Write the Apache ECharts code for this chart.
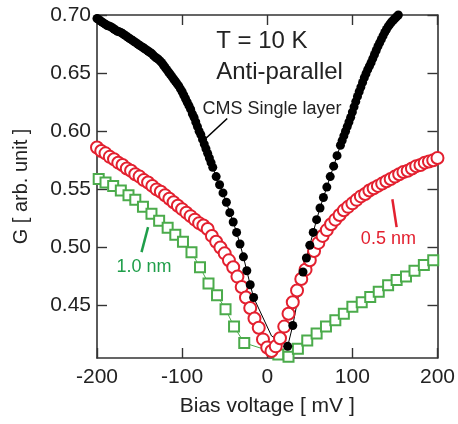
<!DOCTYPE html>
<html>
<head>
<meta charset="utf-8">
<script src="https://cdn.jsdelivr.net/npm/echarts@6/dist/echarts.min.js"></script>
<style>
  html, body { margin: 0; padding: 0; background: #fff; }
  #chart { width: 458px; height: 424px; }
</style>
</head>
<body>
<div id="chart"></div>
<script>
// CMS single layer (filled black dots)
var blackX = [-200, -198, -196, -194, -192, -190, -188, -186, -184, -182, -180, -178, -176, -174, -172,
    -170, -168, -166, -164, -162, -160, -158, -156, -154, -152, -150, -148, -146, -144, -142, -140, -138,
    -136, -134, -132, -130, -128, -126, -124, -122, -120, -118, -116, -114, -112, -110, -108, -106, -104,
    -102, -100, -98, -96, -94, -92, -90, -88, -86, -84, -82, -80, -78, -76, -74, -72, -70, -68, -66, -64,
    -60, -56, -52, -48, -44, -40, -36, -32, -28, -24, -20, -16,
    5, 24, 30,
    42, 46, 50, 54, 58, 62, 66, 70, 74, 78, 82,
    86, 88, 90, 92, 94, 96, 98, 100, 102, 104, 106, 108, 110, 112, 114, 116, 118, 120, 122, 124, 126,
    128, 130, 132, 134, 136, 138, 140, 142, 144, 146, 148, 150, 152, 154];
var blackY = [0.697, 0.696, 0.695, 0.694, 0.693, 0.692, 0.691, 0.6905, 0.690, 0.689, 0.688, 0.687, 0.686,
    0.6855, 0.685, 0.684, 0.683, 0.682, 0.681, 0.680, 0.679, 0.678, 0.677, 0.676, 0.675, 0.674, 0.673,
    0.672, 0.671, 0.670, 0.669, 0.668, 0.667, 0.6655, 0.664, 0.663, 0.662, 0.6605, 0.659, 0.657, 0.655,
    0.653, 0.651, 0.649, 0.647, 0.645, 0.643, 0.641, 0.639, 0.6365, 0.634, 0.631, 0.628, 0.625, 0.622,
    0.619, 0.615, 0.612, 0.608, 0.604, 0.600, 0.597, 0.593, 0.589, 0.585, 0.581, 0.577, 0.573, 0.569,
    0.561, 0.554, 0.547, 0.539, 0.530, 0.522, 0.513, 0.503, 0.492, 0.480, 0.468, 0.457,
    0.424, 0.415, 0.433,
    0.479, 0.491, 0.502, 0.513, 0.524, 0.534, 0.543, 0.552, 0.561, 0.570, 0.579,
    0.588, 0.592, 0.596, 0.600, 0.604, 0.608, 0.612, 0.6165, 0.621, 0.6255, 0.630, 0.634, 0.638, 0.642,
    0.646, 0.6495, 0.653, 0.656, 0.659, 0.6625, 0.666, 0.6695, 0.673, 0.676, 0.679, 0.682, 0.685, 0.6875,
    0.690, 0.692, 0.694, 0.6955, 0.697, 0.6985, 0.700];
var blackHidden = [5];

// 0.5 nm (open red circles)
var redX = [-200, -195, -190, -185, -180, -175, -170, -165, -160, -155, -150, -145, -140, -135, -130,
    -125, -120, -115, -110, -105, -100, -95, -90, -85, -80, -75, -70, -65, -60, -55, -50, -45, -40, -35,
    -30, -25, -20, -15, -10, -5, 0, 5, 10, 15, 20, 25, 30, 35, 40, 45, 50, 55, 60, 65, 70, 75, 80, 85,
    90, 95, 100, 105, 110, 115, 120, 125, 130, 135, 140, 145, 150, 155, 160, 165, 170, 175, 180, 185,
    190, 195, 200];
var redY = [0.586, 0.583, 0.581, 0.578, 0.576, 0.573, 0.571, 0.568, 0.566, 0.563, 0.561, 0.558, 0.556,
    0.553, 0.550, 0.548, 0.545, 0.542, 0.539, 0.536, 0.533, 0.530, 0.527, 0.524, 0.521, 0.519, 0.516,
    0.510, 0.505, 0.500, 0.495, 0.489, 0.483, 0.475, 0.466, 0.457, 0.448, 0.439, 0.431, 0.421, 0.414,
    0.411, 0.415, 0.422, 0.432, 0.443, 0.453, 0.463, 0.473, 0.481, 0.489, 0.497, 0.504, 0.510, 0.515,
    0.520, 0.524, 0.528, 0.532, 0.535, 0.538, 0.541, 0.544, 0.546, 0.549, 0.551, 0.553, 0.555, 0.557,
    0.559, 0.561, 0.563, 0.565, 0.566, 0.568, 0.570, 0.571, 0.573, 0.574, 0.575, 0.577];

// 1.0 nm (open green squares)
var greenX = [-198, -190, -181, -172, -163, -155, -146, -136, -127, -117, -108, -99, -89, -79, -69, -59,
    -49, -39, -27, 3, 13, 25, 36, 47, 58, 69, 80, 90, 100, 111, 121, 131, 142, 152, 163, 173, 184, 195];
var greenY = [0.559, 0.556, 0.553, 0.549, 0.545, 0.541, 0.535, 0.529, 0.523, 0.517, 0.511, 0.505, 0.496,
    0.483, 0.469, 0.459, 0.447, 0.432, 0.418, 0.411, 0.408, 0.406, 0.413, 0.420, 0.426, 0.432, 0.4375,
    0.443, 0.449, 0.453, 0.4575, 0.462, 0.4675, 0.472, 0.475, 0.480, 0.485, 0.489];
var greenHidden = [3];

var yTicks = [0.45, 0.50, 0.55, 0.60, 0.65, 0.70];

var FONT = 'Liberation Sans';
var RED = '#e3202f';
var GREEN = '#4bab4b';
var GREEN_TXT = '#1f9e4a';
var AXIS = '#333';

function pairs(xs, ys, hidden) {
    return xs.map(function (x, i) {
        if (hidden && hidden.indexOf(x) >= 0) {
            return { value: [x, ys[i]], symbol: 'none' };
        }
        return [x, ys[i]];
    });
}

var chart = echarts.init(document.getElementById('chart'));

var axisLine = { show: true, onZero: false, lineStyle: { color: AXIS, width: 1.6 } };
var axisTick = { show: true, inside: true, length: 10, lineStyle: { color: AXIS, width: 1.4 } };

var option = {
    animation: false,
    grid: { left: 97, right: 17, top: 15, bottom: 66 },
    xAxis: [
        {
            type: 'value', min: -200, max: 200, interval: 100, position: 'bottom',
            axisLine: axisLine, axisTick: axisTick, splitLine: { show: false },
            axisLabel: { fontSize: 21, fontFamily: FONT, color: '#222', margin: 9 },
            name: 'Bias voltage [ mV ]', nameLocation: 'middle', nameGap: 38,
            nameTextStyle: { fontSize: 21, fontFamily: FONT, color: '#222' }
        },
        {
            type: 'value', min: -200, max: 200, interval: 100, position: 'top',
            axisLine: axisLine, axisTick: axisTick, splitLine: { show: false },
            axisLabel: { show: false }
        }
    ],
    yAxis: [
        {
            type: 'value', min: 0.405, max: 0.70, position: 'left',
            axisLine: axisLine,
            axisTick: Object.assign({ customValues: yTicks }, axisTick),
            splitLine: { show: false },
            axisLabel: {
                customValues: yTicks, fontSize: 21, fontFamily: FONT, color: '#222', margin: 6,
                formatter: function (v) { return v.toFixed(2); }
            },
            name: 'G [ arb. unit ]', nameLocation: 'middle', nameGap: 66,
            nameTextStyle: { fontSize: 20, fontFamily: FONT, color: '#222' }
        },
        {
            type: 'value', min: 0.405, max: 0.70, position: 'right',
            axisLine: axisLine,
            axisTick: Object.assign({ customValues: yTicks }, axisTick),
            splitLine: { show: false },
            axisLabel: { show: false }
        }
    ],
    series: [
        {
            name: '1.0 nm', type: 'line', data: pairs(greenX, greenY, greenHidden),
            symbol: 'emptyRect', symbolSize: 10, clip: true,
            lineStyle: { color: GREEN, width: 1 },
            itemStyle: { color: GREEN, borderWidth: 1.3 }
        },
        {
            name: '0.5 nm', type: 'line', data: pairs(redX, redY),
            symbol: 'emptyCircle', symbolSize: 12, clip: true,
            lineStyle: { width: 0 },
            itemStyle: { color: RED, borderWidth: 1.2 }
        },
        {
            name: 'CMS Single layer', type: 'line', data: pairs(blackX, blackY, blackHidden),
            symbol: 'circle', symbolSize: 9, clip: true,
            lineStyle: { color: '#000', width: 1 },
            itemStyle: { color: '#000' }
        }
    ]
};
chart.setOption(option);

// annotations placed in data coordinates
var notes = [
    { text: 'T = 10 K', x: -60, y: 0.677, size: 24, color: '#222' },
    { text: 'Anti-parallel', x: -60, y: 0.651, size: 24, color: '#222' },
    { text: 'CMS Single layer', x: -76, y: 0.619, size: 18, color: '#222' },
    { text: '0.5 nm', x: 110, y: 0.507, size: 18, color: RED },
    { text: '1.0 nm', x: -177, y: 0.483, size: 18, color: GREEN_TXT }
];
var leaders = [
    { from: [-47, 0.611], to: [-72, 0.594], color: '#000', width: 1.6 },
    { from: [147, 0.5415], to: [152, 0.5176], color: RED, width: 2.5 },
    { from: [-140, 0.5176], to: [-147.7, 0.4961], color: GREEN_TXT, width: 2.5 }
];

function px(p) { return chart.convertToPixel({ xAxisIndex: 0, yAxisIndex: 0 }, p); }

var graphics = [];
notes.forEach(function (n) {
    var p = px([n.x, n.y]);
    graphics.push({
        type: 'text', x: p[0], y: p[1], z: 100,
        style: { text: n.text, fill: n.color, font: n.size + 'px "' + FONT + '"',
                 textAlign: 'left', textVerticalAlign: 'middle' }
    });
});
leaders.forEach(function (l) {
    var a = px(l.from), b = px(l.to);
    graphics.push({
        type: 'line', z: 100,
        shape: { x1: a[0], y1: a[1], x2: b[0], y2: b[1] },
        style: { stroke: l.color, lineWidth: l.width }
    });
});
chart.setOption({ graphic: graphics });
</script>
</body>
</html>
